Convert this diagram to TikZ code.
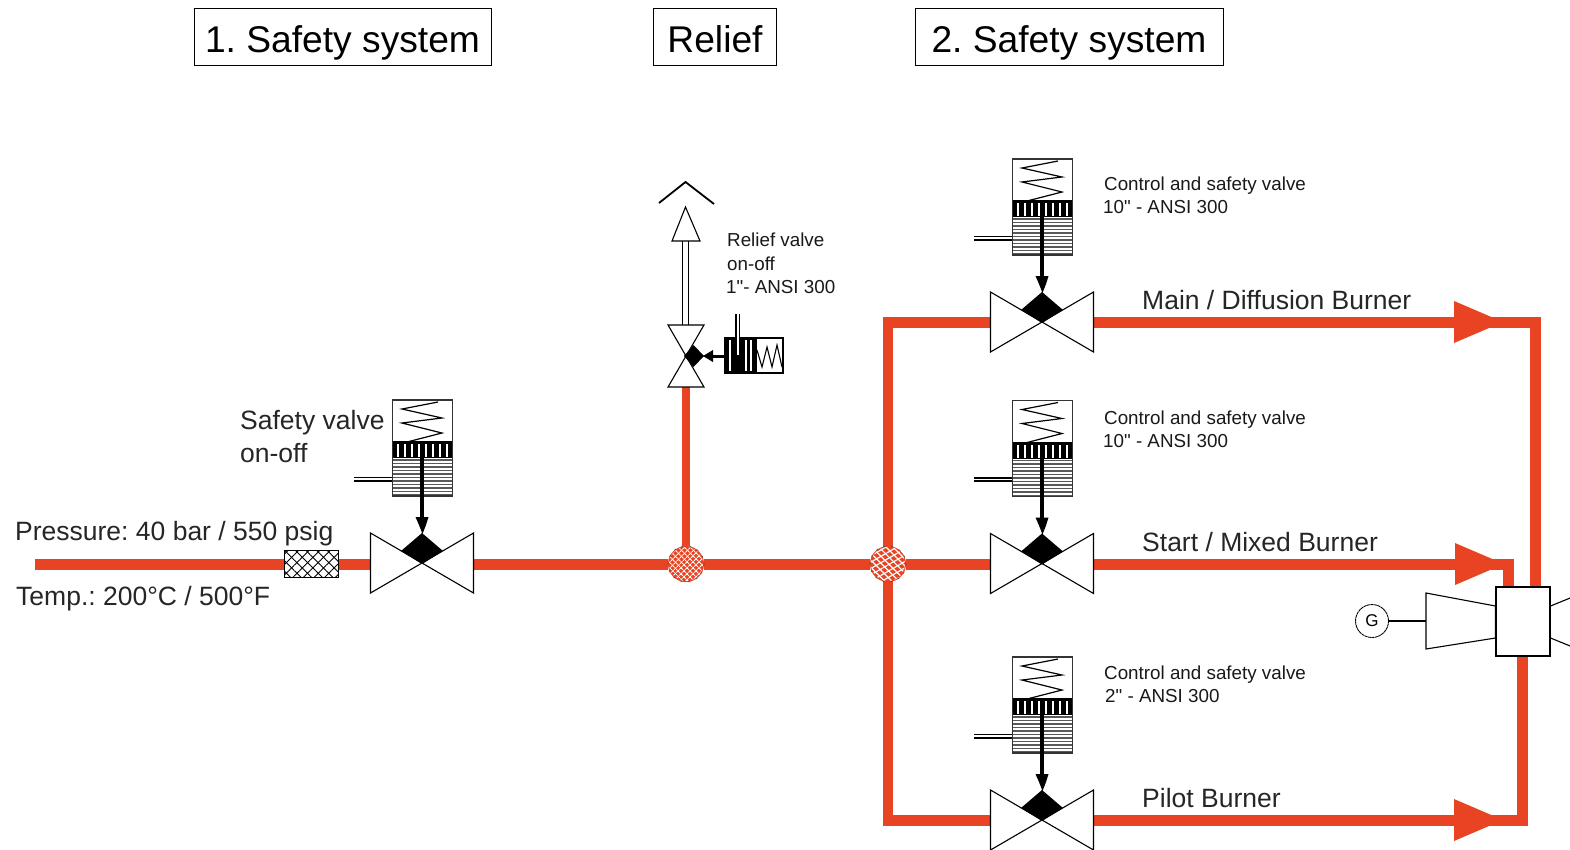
\documentclass[tikz,border=0pt]{standalone}
\usepackage{fontspec}
\setmainfont{Liberation Sans}
\newfontfamily\lsans{Liberation Sans}
\usetikzlibrary{patterns.meta}
\definecolor{pipered}{HTML}{E84322}
\tikzset{
  pipe/.style={draw=pipered,line width=11pt,line cap=butt,line join=miter},
  vpipe/.style={draw=pipered,line width=10pt,line cap=butt},
  thinpipe/.style={draw=pipered,line width=7.5pt},
  tip/.style={fill=pipered,draw=none},
  sym/.style={draw=black,line width=1.1pt,fill=white,line join=miter},
  title/.style={draw=black,line width=1pt,font=\fontsize{37.2pt}{40pt}\selectfont,inner sep=0pt,minimum height=57pt,text height=33pt,text depth=2pt},
  lab/.style={font=\fontsize{26.5pt}{28pt}\selectfont,anchor=base west,inner sep=0pt,text=black!85},
  small/.style={font=\lsans\fontsize{18.8pt}{20pt}\selectfont,anchor=base west,inner sep=0pt,text=black!90},
  port/.style={inner sep=0pt,minimum width=103pt,minimum height=60pt},
  junction/.style={circle,inner sep=0pt,minimum size=36pt,fill=pipered},
}
% valve with piston actuator; #1 name, #2 x, #3 y
\newcommand{\ctlvalve}[3]{%
  \node[port] (#1) at (#2,#3) {};
  \begin{scope}[shift={(#2,#3)}]
    \draw[sym] (-51.5,-30) -- (0,0) -- (-51.5,30) -- cycle;
    \draw[sym] (51.5,-30) -- (0,0) -- (51.5,30) -- cycle;
    \fill[black] (0,-30) -- (21,-12) -- (0,1) -- (-21,-12) -- cycle;
    % side port
    \draw[black,line width=5pt] (-68,-84) -- (-29,-84);
    \draw[white,line width=1.2pt] (-68,-84) -- (-29,-84);
    % cylinder
    \draw[sym] (-29.5,-163) rectangle (30.5,-67);
    \fill[black] (-29.5,-122) rectangle (30.5,-105);
    \foreach \i in {-24,-17,...,26} {\fill[white] (\i-0.9,-119) rectangle (\i+0.9,-106);}
    \foreach \i in {-103,-99.5,...,-68} {\draw[black!65,line width=1.4pt] (-29.5,\i) -- (30.5,\i);}
    \draw[black!80,line width=1.1pt] (-29.5,-163) rectangle (30.5,-67);
    % spring
    \draw[black,line width=1.2pt] (16,-161) -- (-20,-154) -- (20,-145) -- (-20,-140) -- (20,-130) -- (-15,-121);
    % stem
    \draw[black,line width=4.4pt] (0,-105) -- (0,-42);
    \fill[black] (-6.5,-46) -- (6.5,-46) -- (4,-38) -- (0.5,-29) -- (-3,-38) -- cycle;
  \end{scope}}
\begin{document}
\frenchspacing
\begin{tikzpicture}[x=1pt,y=-1pt]
\useasboundingbox (0,0) rectangle (1570,849);
\clip (0,0) rectangle (1570,849);
\fill[white] (0,0) rectangle (1570,849);

% titles
\node[title,minimum width=297pt] (t1) at (342.5,36.5) {1. Safety system};
\node[title,minimum width=123pt] (t2) at (715,36.5) {Relief};
\node[title,minimum width=308pt] (t3) at (1069,36.5) {2. Safety system};

% anchors of the piping
\coordinate (start) at (35,564);
\node[port] (vA) at (422,563) {};
\node[port] (vB) at (1042,322) {};
\node[port] (vC) at (1042,563.5) {};
\node[port] (vD) at (1042,820) {};
\node[inner sep=0pt,minimum width=54pt,minimum height=69pt] (comb) at (1523,621.5) {};
\node[junction] (j1) at (686,564) {};
\node[junction] (j2) at (888,564) {};
\node[inner sep=0pt,minimum width=36pt,minimum height=62pt] (rv) at (686,356) {};
\node[inner sep=0pt,minimum width=53pt,minimum height=27pt] (st) at (311.5,564) {};

% pipes
\draw[pipe] (start) -- (st.west);
\draw[pipe] (st.east) -- (vA.west |- st.east);
\draw[pipe] (vA.east |- j1) -- (j1);
\draw[pipe] (j1) -- (j2);
\draw[pipe] (j2) -- (vC.west |- j2);
\draw[thinpipe] (rv.south) -- (j1);
\draw[vpipe] (j2.center) -- (888,322);
\draw[vpipe] (j2.center) -- (888,820);
\draw[pipe] (883,322) -- (vB.west);
\draw[pipe] (883,820) -- (vD.west);
\draw[pipe] (vB.east) -| (1535,587);
\draw[pipe] (vC.east |- j2) -| (1508.5,587);
\draw[pipe] (vD.east) -| (1522,656);
% flow arrowheads
\fill[tip] (1454,301) -- (1503,322) -- (1454,343) -- cycle;
\fill[tip] (1455,543) -- (1504,564) -- (1455,585) -- cycle;
\fill[tip] (1454,799) -- (1503,820) -- (1454,841) -- cycle;

% junctions
\fill[pattern={Lines[angle=45,distance=4pt,line width=1.1pt]},pattern color=white] (j1) circle (17);
\fill[pattern={Lines[angle=-45,distance=4pt,line width=1.1pt]},pattern color=white] (j1) circle (17);
\draw[black!70,line width=0.7pt,dash pattern=on 2pt off 6pt] (j1) circle (18);
\fill[pattern={Lines[angle=30,distance=5.5pt,line width=1.2pt]},pattern color=white] (j2) circle (17);
\fill[pattern={Lines[angle=-45,distance=5pt,line width=1.2pt]},pattern color=white] (j2) circle (17);
\draw[black!70,line width=0.7pt,dash pattern=on 2pt off 6pt] (j2) circle (18);

% strainer
\draw[sym] (st.north west) rectangle (st.south east);
\begin{scope}
  \clip (st.north west) rectangle (st.south east);
  \fill[pattern={Lines[angle=45,distance=7.5pt,line width=0.9pt]},pattern color=black] (st.north west) rectangle (st.south east);
  \fill[pattern={Lines[angle=-45,distance=7.5pt,line width=0.9pt]},pattern color=black] (st.north west) rectangle (st.south east);
\end{scope}
\draw[black,line width=1.2pt] (st.north west) rectangle (st.south east);

% valves
\ctlvalve{valveA}{422}{563}
\ctlvalve{valveB}{1042}{322}
\ctlvalve{valveC}{1042}{563.5}
\ctlvalve{valveD}{1042}{820}

% vent line and hood
\draw[black,line width=7.5pt] (685.5,241) -- (685.5,325);
\draw[white,line width=4.5pt] (685.5,241) -- (685.5,325);
\draw[sym] (685.5,207) -- (700,241) -- (672,241) -- cycle;
\draw[black,line width=1.8pt,fill=none] (659,203) -- (685.5,182) -- (714,204);
% relief valve
\draw[sym] (668,325) -- (704,325) -- (686,356) -- cycle;
\draw[sym] (668,387) -- (704,387) -- (686,356) -- cycle;
\fill[black] (684,356) -- (693.5,345) -- (704,356) -- (693.5,367) -- cycle;
% relief actuator
\draw[sym] (725,338) rectangle (783,373);
\fill[black] (725,338) rectangle (757,373);
\foreach \i in {729,745,750} {\fill[white] (\i,340) rectangle (\i+1.5,371);}
\draw[black,line width=1.1pt] (757,350) -- (762,367) -- (767,347) -- (772,367) -- (777,345) -- (782,367);
\draw[black,line width=4.4pt] (737.5,314) -- (737.5,355);
\draw[white,line width=2pt] (737.5,314) -- (737.5,355);
\draw[black,line width=3pt] (725,356) -- (706,356);
\fill[black] (703,356) -- (713,350) -- (713,362) -- cycle;

% gas turbine
\node[draw=black,line width=1.1pt,fill=white,minimum width=54pt,minimum height=69pt,inner sep=0pt] (burner) at (1523,621.5) {};
\coordinate (compL) at (1426,621);
\draw[sym] (compL |- 0,593) -- (burner.west |- 0,606) -- (burner.west |- 0,638) -- (compL |- 0,649) -- cycle;
\draw[black,line width=1.1pt] (burner.east |- 0,606) -- (1575,596);
\draw[black,line width=1.1pt] (burner.east |- 0,638) -- (1575,648);
\node[circle,draw=black,line width=0.9pt,dash pattern=on 3pt off 0.5pt,minimum size=33pt,inner sep=0pt,font=\fontsize{17pt}{18pt}\selectfont] (gen) at (1372,621) {G};
\draw[black,line width=1.1pt] (gen) -- (compL);

% labels
\node[lab] (l1) at (240,429) {Safety valve};
\node[lab] (l2) at (240,462) {on-off};
\node[lab] (l3) at (15,540) {Pressure: 40 bar / 550 psig};
\node[lab] (l4) at (16,605) {Temp.: 200°C / 500°F};
\node[small] (r1) at (727,246) {Relief valve};
\node[small] (r2) at (727,270) {on-off};
\node[small] (r3) at (726,293) {1"- ANSI 300};
\node[small] (c1) at (1104,190) {Control and safety valve};
\node[small] (c2) at (1103,213) {10" - ANSI 300};
\node[small] (c3) at (1104,424) {Control and safety valve};
\node[small] (c4) at (1103,447) {10" - ANSI 300};
\node[small] (c5) at (1104,679) {Control and safety valve};
\node[small] (c6) at (1105,702) {2" - ANSI 300};
\node[lab] (b1) at (1142,309) {Main / Diffusion Burner};
\node[lab] (b2) at (1142,551) {Start / Mixed Burner};
\node[lab] (b3) at (1142,807) {Pilot Burner};
\end{tikzpicture}
\end{document}
